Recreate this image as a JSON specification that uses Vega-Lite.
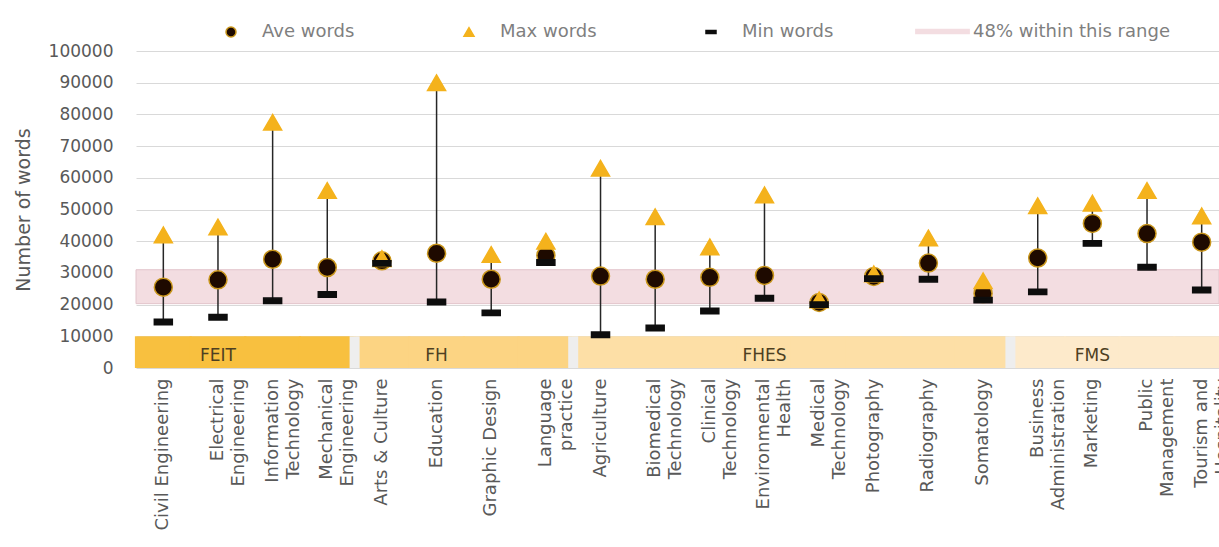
{
  "$schema": "https://vega.github.io/schema/vega-lite/v6.json",
  "width": 1083,
  "height": 317,
  "autosize": {"type": "none"},
  "padding": {"left": 136, "top": 51, "right": 0, "bottom": 179},
  "background": "white",
  "config": {
    "view": {"stroke": null},
    "font": "DejaVu Sans",
    "axisY": {
      "tickCount": 10, "format": "d", "labelFont": "DejaVu Sans", "labelFontSize": 17, "labelColor": "#595959",
      "labelPadding": 23, "labelOverlap": false, "ticks": false, "domain": false,
      "grid": true, "gridColor": "#D9D9D9", "gridWidth": 1,
      "titleFont": "DejaVu Sans", "titleFontSize": 19, "titleFontWeight": "normal",
      "titleColor": "#595959", "titlePadding": 15
    }
  },
  "datasets": {
    "main": [
      {"cat": "Civil Engineering", "fac": "FEIT", "Ave words": 25500, "Max words": 42000, "Min words": 14500},
      {"cat": "Electrical|Engineering", "fac": "FEIT", "Ave words": 27800, "Max words": 44500, "Min words": 16000},
      {"cat": "Information|Technology", "fac": "FEIT", "Ave words": 34300, "Max words": 77500, "Min words": 21200},
      {"cat": "Mechanical|Engineering", "fac": "FEIT", "Ave words": 31700, "Max words": 56000, "Min words": 23200},
      {"cat": "Arts & Culture", "fac": "FH", "Ave words": 33800, "Max words": 34500, "Min words": 33000},
      {"cat": "Education", "fac": "FH", "Ave words": 36200, "Max words": 90000, "Min words": 20800},
      {"cat": "Graphic Design", "fac": "FH", "Ave words": 28000, "Max words": 35800, "Min words": 17400},
      {"cat": "Language|practice", "fac": "FH", "Ave words": 35500, "Max words": 40000, "Min words": 33300},
      {"cat": "Agriculture", "fac": "FHES", "Ave words": 29000, "Max words": 63000, "Min words": 10500},
      {"cat": "Biomedical|Technology", "fac": "FHES", "Ave words": 28000, "Max words": 47700, "Min words": 12600},
      {"cat": "Clinical|Technology", "fac": "FHES", "Ave words": 28600, "Max words": 38200, "Min words": 18000},
      {"cat": "Environmental|Health", "fac": "FHES", "Ave words": 29200, "Max words": 54600, "Min words": 22000},
      {"cat": "Medical|Technology", "fac": "FHES", "Ave words": 20700, "Max words": 21500, "Min words": 20000},
      {"cat": "Photography", "fac": "FHES", "Ave words": 28900, "Max words": 29700, "Min words": 28200},
      {"cat": "Radiography", "fac": "FHES", "Ave words": 33100, "Max words": 41000, "Min words": 28000},
      {"cat": "Somatology", "fac": "FHES", "Ave words": 23500, "Max words": 27500, "Min words": 21400},
      {"cat": "Business|Administration", "fac": "FMS", "Ave words": 34700, "Max words": 51200, "Min words": 24000},
      {"cat": "Marketing", "fac": "FMS", "Ave words": 45600, "Max words": 52000, "Min words": 39300},
      {"cat": "Public|Management", "fac": "FMS", "Ave words": 42400, "Max words": 56000, "Min words": 31800},
      {"cat": "Tourism and|Hospitality", "fac": "FMS", "Ave words": 39700, "Max words": 48000, "Min words": 24600}
    ],
    "seps": [
      {"cat": "Arts & Culture"},
      {"cat": "Agriculture"},
      {"cat": "Business|Administration"}
    ],
    "facs": [
      {"cat": "Electrical|Engineering", "label": "FEIT"},
      {"cat": "Education", "label": "FH"},
      {"cat": "Environmental|Health", "label": "FHES"},
      {"cat": "Marketing", "label": "FMS"}
    ],
    "band": [{"band": "48% within this range"}]
  },
  "layer": [
    {
      "data": {"name": "main"},
      "mark": {"type": "bar", "width": {"band": 1.04}},
      "encoding": {
        "x": {
          "field": "cat", "type": "nominal", "sort": null,
          "scale": {
            "domain": ["Civil Engineering", "Electrical|Engineering", "Information|Technology", "Mechanical|Engineering", "Arts & Culture", "Education", "Graphic Design", "Language|practice", "Agriculture", "Biomedical|Technology", "Clinical|Technology", "Environmental|Health", "Medical|Technology", "Photography", "Radiography", "Somatology", "Business|Administration", "Marketing", "Public|Management", "Tourism and|Hospitality"],
            "range": [0, 1093], "paddingInner": 0, "paddingOuter": 0
          },
          "axis": {
            "title": null, "labelAngle": -90, "labelExpr": "split(datum.value, '|')",
            "labelFont": "DejaVu Sans", "labelFontSize": 18, "labelColor": "#595959",
            "labelLineHeight": 21, "labelPadding": 10, "labelLimit": 400, "labelOverlap": false,
            "ticks": false, "domain": false, "grid": false
          }
        },
        "y": {
          "datum": 10000, "type": "quantitative", "title": "Number of words",
          "scale": {"domain": [0, 100000], "nice": false},
          "axis": {"tickCount": 10, "labelOverlap": false}
        },
        "y2": {"datum": 0},
        "fill": {
          "field": "fac", "type": "nominal",
          "scale": {"domain": ["FEIT", "FH", "FHES", "FMS"], "range": ["#F8C03F", "#FCD483", "#FDDFA6", "#FDEACB"]},
          "legend": null
        }
      }
    },
    {
      "data": {"name": "seps"},
      "mark": {"type": "rule", "stroke": "#EEEEEE", "strokeWidth": 10},
      "encoding": {
        "x": {"field": "cat", "type": "nominal", "bandPosition": 0},
        "y": {"datum": 10000, "type": "quantitative", "title": "Number of words", "axis": {"tickCount": 10, "labelOverlap": false}},
        "y2": {"datum": 0}
      }
    },
    {
      "data": {"name": "facs"},
      "mark": {"type": "text", "font": "DejaVu Sans", "fontSize": 17, "color": "#4D3F22", "baseline": "middle", "align": "center"},
      "encoding": {
        "x": {"field": "cat", "type": "nominal"},
        "y": {"datum": 3800, "type": "quantitative", "title": "Number of words", "axis": {"tickCount": 10, "labelOverlap": false}},
        "text": {"field": "label"}
      }
    },
    {
      "data": {"name": "band"},
      "mark": {"type": "rect", "fill": "#F3DDE1", "stroke": "#E2C4CB", "strokeWidth": 1},
      "encoding": {
        "y": {"datum": 31000, "type": "quantitative", "title": "Number of words", "axis": {"tickCount": 10, "labelOverlap": false}},
        "y2": {"datum": 20300},
        "opacity": {
          "field": "band", "type": "ordinal",
          "scale": {"domain": ["48% within this range"], "range": [1]},
          "legend": {"orient": "none", "legendX": 779, "legendY": -47, "direction": "horizontal", "title": null, "symbolType": "M-1,-0.1H1V0.1H-1Z", "symbolSize": 3000, "symbolFillColor": "#F3DDE1", "symbolStrokeWidth": 0, "labelOffset": 3, "labelFont": "DejaVu Sans", "labelFontSize": 18, "labelColor": "#7F7F7F", "labelLimit": 400}
        }
      }
    },
    {
      "data": {"name": "main"},
      "mark": {"type": "rule", "stroke": "#262626", "strokeWidth": 1.5},
      "encoding": {
        "x": {"field": "cat", "type": "nominal"},
        "y": {"field": "Min words", "type": "quantitative", "title": "Number of words", "axis": {"tickCount": 10, "labelOverlap": false}},
        "y2": {"field": "Max words"}
      }
    },
    {
      "data": {"name": "main"},
      "transform": [{"fold": ["Ave words", "Max words", "Min words"], "as": ["series", "words"]}],
      "mark": {"type": "point", "filled": true, "opacity": 1, "size": 324, "strokeWidth": 1.5},
      "encoding": {
        "x": {"field": "cat", "type": "nominal"},
        "y": {"field": "words", "type": "quantitative", "title": "Number of words", "axis": {"tickCount": 10, "labelOverlap": false}},
        "color": {
          "field": "series", "type": "nominal",
          "scale": {"domain": ["Ave words", "Max words", "Min words"], "range": ["#1E0A00", "#F4B21C", "#0D0D0D"]},
          "legend": {"orient": "none", "legendX": 86, "legendY": -28, "direction": "horizontal", "title": null, "columnPadding": 105, "labelOffset": 22, "symbolSize": 100, "labelFont": "DejaVu Sans", "labelFontSize": 18, "labelColor": "#7F7F7F", "labelLimit": 400, "symbolStrokeWidth": 1.5}
        },
        "shape": {
          "field": "series", "type": "nominal",
          "scale": {"domain": ["Ave words", "Max words", "Min words"], "range": ["circle", "triangle-up", "M-1,-0.3H1V0.3H-1Z"]},
          "legend": {"orient": "none", "legendX": 86, "legendY": -28, "direction": "horizontal", "title": null, "columnPadding": 105, "labelOffset": 22, "symbolSize": 100, "labelFont": "DejaVu Sans", "labelFontSize": 18, "labelColor": "#7F7F7F", "labelLimit": 400, "symbolStrokeWidth": 1.5}
        },
        "stroke": {
          "field": "series", "type": "nominal",
          "scale": {"domain": ["Ave words", "Max words", "Min words"], "range": ["#C9961C", "#F4B21C", "#0D0D0D"]},
          "legend": {"orient": "none", "legendX": 86, "legendY": -28, "direction": "horizontal", "title": null, "columnPadding": 105, "labelOffset": 22, "symbolSize": 100, "labelFont": "DejaVu Sans", "labelFontSize": 18, "labelColor": "#7F7F7F", "labelLimit": 400, "symbolStrokeWidth": 1.5}
        }
      }
    }
  ]
}
